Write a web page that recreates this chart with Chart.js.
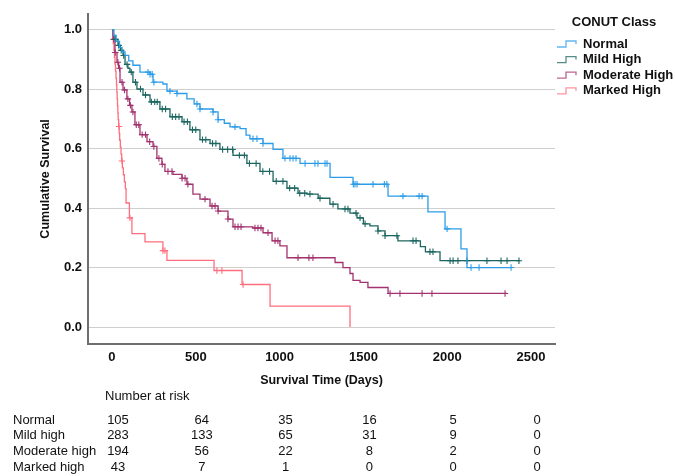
<!DOCTYPE html>
<html>
<head>
<meta charset="utf-8">
<script src="https://cdn.jsdelivr.net/npm/chart.js@4"></script>
<style>
  html, body { margin: 0; padding: 0; background: #fff; }
</style>
</head>
<body>
<canvas id="km" width="676" height="476"></canvas>
<script>
// Kaplan-Meier steps: time (days) and survival after each drop
const groupNames = ['Normal', 'Mild High', 'Moderate High', 'Marked High'];

const normalTime = [0, 10, 25, 45, 60, 78, 100, 125, 167, 227, 245, 304, 328, 388, 447, 490, 525, 603, 633, 670, 704, 764, 800, 823, 901, 961, 1020, 1122, 1301, 1438, 1647, 1885, 1987, 2082, 2118, 2381];
const normalSurv = [1, 0.98, 0.96, 0.94, 0.925, 0.913, 0.895, 0.88, 0.857, 0.85, 0.823, 0.817, 0.793, 0.785, 0.767, 0.75, 0.733, 0.723, 0.697, 0.685, 0.673, 0.667, 0.645, 0.633, 0.617, 0.597, 0.567, 0.55, 0.503, 0.48, 0.44, 0.387, 0.33, 0.263, 0.2, 0.2];
const normalCensor = [215, 227, 240, 250, 346, 388, 507, 525, 603, 633, 734, 841, 865, 901, 1032, 1062, 1080, 1098, 1152, 1211, 1229, 1271, 1283, 1440, 1450, 1462, 1557, 1625, 1640, 1736, 1832, 1850, 1999, 2142, 2190, 2381];

const mildTime = [0, 10, 18, 36, 50, 66, 78, 95, 107, 125, 149, 185, 227, 286, 346, 418, 465, 525, 585, 644, 722, 805, 883, 961, 1044, 1110, 1163, 1230, 1300, 1348, 1420, 1462, 1500, 1539, 1587, 1629, 1706, 1840, 1870, 1957, 2434];
const mildSurv = [1, 0.98, 0.967, 0.947, 0.93, 0.913, 0.883, 0.87, 0.857, 0.823, 0.8, 0.78, 0.757, 0.733, 0.707, 0.69, 0.663, 0.63, 0.617, 0.597, 0.577, 0.55, 0.523, 0.49, 0.467, 0.45, 0.447, 0.433, 0.413, 0.397, 0.383, 0.367, 0.347, 0.34, 0.323, 0.307, 0.29, 0.27, 0.253, 0.223, 0.223];
const mildCensor = [20, 40, 55, 70, 90, 115, 140, 170, 200, 235, 255, 270, 300, 320, 360, 380, 400, 430, 450, 480, 500, 540, 560, 600, 620, 660, 690, 720, 760, 790, 820, 860, 900, 940, 980, 1020, 1060, 1090, 1120, 1150, 1181, 1241, 1319, 1390, 1408, 1456, 1480, 1510, 1587, 1629, 1700, 1796, 1814, 1897, 1915, 2017, 2035, 2064, 2118, 2237, 2321, 2357, 2428];

const modTime = [0, 6, 18, 30, 40, 48, 66, 89, 105, 119, 137, 167, 209, 245, 268, 298, 316, 364, 418, 447, 483, 525, 585, 633, 692, 722, 841, 901, 955, 1002, 1044, 1331, 1378, 1420, 1438, 1480, 1527, 1647, 2357];
const modSurv = [1, 0.967, 0.923, 0.89, 0.87, 0.823, 0.797, 0.767, 0.745, 0.723, 0.68, 0.647, 0.623, 0.607, 0.567, 0.547, 0.523, 0.513, 0.5, 0.48, 0.447, 0.43, 0.407, 0.39, 0.363, 0.337, 0.333, 0.317, 0.29, 0.273, 0.233, 0.217, 0.2, 0.18, 0.157, 0.15, 0.133, 0.113, 0.113];
const modCensor = [10, 20, 35, 45, 60, 75, 95, 110, 125, 145, 160, 180, 200, 225, 250, 280, 300, 334, 358, 418, 436, 453, 555, 597, 615, 633, 692, 734, 752, 770, 853, 871, 889, 931, 973, 990, 1110, 1175, 1199, 1659, 1718, 1850, 1909, 2345];

const markTime = [0, 5, 8, 12, 15, 18, 21, 24, 27, 29, 31, 33, 35, 37, 40, 43, 46, 50, 54, 58, 62, 68, 74, 80, 84, 104, 119, 197, 304, 328, 609, 776, 943, 1420];
const markSurv = [1, 0.977, 0.953, 0.93, 0.907, 0.884, 0.86, 0.837, 0.814, 0.79, 0.767, 0.744, 0.72, 0.697, 0.674, 0.651, 0.628, 0.605, 0.581, 0.558, 0.535, 0.512, 0.488, 0.465, 0.417, 0.367, 0.314, 0.286, 0.257, 0.224, 0.19, 0.143, 0.07, 0];
const markCensor = [42, 60, 107, 304, 316, 626, 656, 782];

// axis ticks
const xTicks = [0, 500, 1000, 1500, 2000, 2500];
const yTicks = [0, 0.2, 0.4, 0.6, 0.8, 1.0];

// number at risk table
const riskTimes = [0, 500, 1000, 1500, 2000, 2500];
const riskLabels = ['Normal', 'Mild high', 'Moderate high', 'Marked high'];
const riskNormal = [105, 64, 35, 16, 5, 0];
const riskMild = [283, 133, 65, 31, 9, 0];
const riskModerate = [194, 56, 22, 8, 2, 0];
const riskMarked = [43, 7, 1, 0, 0, 0];

const colors = ['#2d9ce8', '#1c6660', '#a2336e', '#ff6e7e'];
const FONT = '"Liberation Sans", Arial, sans-serif';
Chart.defaults.font.family = FONT;
Chart.defaults.color = '#111';

const survAt = (times, surv, t) => {
  let s = surv[0];
  for (let i = 0; i < times.length; i++) {
    if (times[i] <= t) s = surv[i];
  }
  return s;
};

const curves = [
  [normalTime, normalSurv, normalCensor],
  [mildTime, mildSurv, mildCensor],
  [modTime, modSurv, modCensor],
  [markTime, markSurv, markCensor]
];

const datasets = [];
curves.forEach(([times, surv, censor], g) => {
  datasets.push({
    label: groupNames[g],
    data: times.map((t, i) => ({ x: t, y: surv[i] })),
    stepped: 'before',
    borderColor: colors[g],
    borderWidth: 1.3,
    pointRadius: 0,
    fill: false
  });
  datasets.push({
    label: groupNames[g] + ' censored',
    type: 'scatter',
    data: censor.map(t => ({ x: t, y: survAt(times, surv, t) })),
    showLine: false,
    pointStyle: 'cross',
    pointRadius: 3.2,
    borderWidth: 1.1,
    borderColor: colors[g],
    backgroundColor: colors[g]
  });
});

const legendBox = {
  id: 'legendBox',
  afterDraw(chart) {
    const ctx = chart.ctx;
    ctx.save();
    ctx.fillStyle = '#111';
    ctx.textBaseline = 'middle';
    ctx.font = 'bold 13px ' + FONT;
    ctx.textAlign = 'center';
    ctx.fillText('CONUT Class', 614, 22);
    ctx.textAlign = 'left';
    groupNames.forEach((name, i) => {
      const y = 44 + i * 15.6;
      ctx.strokeStyle = colors[i];
      ctx.globalAlpha = 0.75;
      ctx.lineWidth = 1.3;
      ctx.beginPath();
      ctx.moveTo(557, y + 3);
      ctx.lineTo(566, y + 3);
      ctx.lineTo(566, y - 3);
      ctx.lineTo(576, y - 3);
      ctx.lineTo(576, y);
      ctx.stroke();
      ctx.globalAlpha = 1;
      ctx.fillText(name, 583, y);
    });
    ctx.restore();
  }
};

const riskTable = {
  id: 'riskTable',
  afterDraw(chart) {
    const ctx = chart.ctx;
    const xs = chart.scales.x;
    const rows = [riskNormal, riskMild, riskModerate, riskMarked];
    ctx.save();
    ctx.fillStyle = '#111';
    ctx.textBaseline = 'middle';
    ctx.font = '13px ' + FONT;
    ctx.textAlign = 'left';
    ctx.fillText('Number at risk', 105, 396);
    rows.forEach((counts, r) => {
      const y = 420 + r * 15.7;
      ctx.textAlign = 'left';
      ctx.fillText(riskLabels[r], 13, y);
      ctx.textAlign = 'center';
      counts.forEach((n, i) => {
        ctx.fillText(String(n), xs.getPixelForValue(riskTimes[i]) + 6, y);
      });
    });
    ctx.restore();
  }
};

new Chart(document.getElementById('km'), {
  type: 'line',
  data: { datasets: datasets },
  plugins: [legendBox, riskTable],
  options: {
    responsive: false,
    animation: false,
    layout: { padding: { left: 34, right: 121, top: 12, bottom: 84 } },
    plugins: {
      legend: { display: false },
      tooltip: { enabled: false }
    },
    scales: {
      x: {
        type: 'linear',
        min: -143,
        max: 2643,
        border: { color: '#6e6e6e', width: 2 },
        grid: { display: false, drawTicks: false },
        afterBuildTicks: function (axis) {
          axis.ticks = xTicks.map(v => ({ value: v }));
        },
        afterFit: function (scale) {
          scale.height = 48;
        },
        ticks: {
          padding: 6,
          color: '#111',
          font: { size: 13, weight: 'bold' },
          callback: function (value) {
            return String(value);
          }
        },
        title: {
          display: true,
          text: 'Survival Time (Days)',
          color: '#111',
          padding: { top: 4, bottom: 4 },
          font: { size: 12.5, weight: 'bold' }
        }
      },
      y: {
        min: -0.057,
        max: 1.053,
        border: { color: '#6e6e6e', width: 2 },
        grid: { color: '#cfcfcf', lineWidth: 1, drawTicks: false },
        afterBuildTicks: function (axis) {
          axis.ticks = yTicks.map(v => ({ value: v }));
        },
        ticks: {
          padding: 6,
          color: '#111',
          font: { size: 13, weight: 'bold' },
          callback: function (value) {
            return value.toFixed(1);
          }
        },
        title: {
          display: true,
          text: 'Cumulative Survival',
          color: '#111',
          font: { size: 12.5, weight: 'bold' }
        },
        afterFit: function (scale) {
          scale.width = 54;
        }
      }
    }
  }
});
</script>
</body>
</html>
